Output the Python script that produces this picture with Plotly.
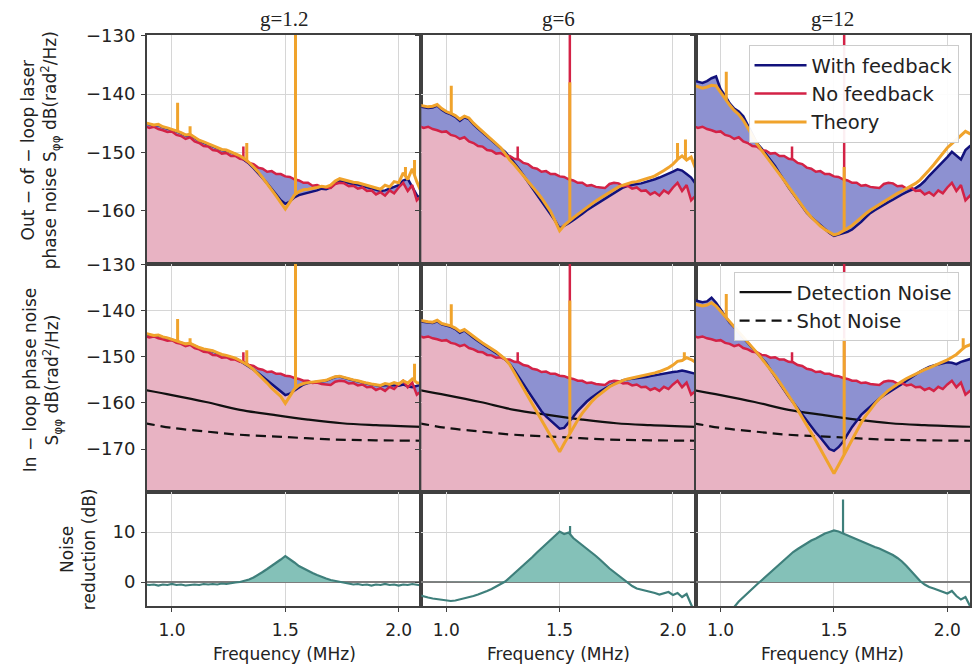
import numpy as np
import plotly.graph_objects as go
from plotly.subplots import make_subplots

# ---------------- data ----------------
freq = [0.88, 0.90, 0.92, 0.94, 0.96, 0.98, 1.00, 1.02, 1.04, 1.06,
        1.08, 1.10, 1.12, 1.14, 1.16, 1.18, 1.20, 1.22, 1.24, 1.26,
        1.28, 1.30, 1.32, 1.34, 1.36, 1.38, 1.40, 1.42, 1.44, 1.46,
        1.48, 1.50, 1.52, 1.54, 1.56, 1.58, 1.60, 1.62, 1.64, 1.66,
        1.68, 1.70, 1.72, 1.74, 1.76, 1.78, 1.80, 1.82, 1.84, 1.86,
        1.88, 1.90, 1.92, 1.94, 1.96, 1.98, 2.00, 2.02, 2.04, 2.06,
        2.08, 2.10, 2.12]

no_feedback = [-145.5, -145.8, -145.6, -146.0, -146.2, -146.5, -146.4, -147.0, -147.2, -147.7,
               -147.4, -148.1, -148.4, -148.9, -149.0, -149.6, -149.7, -150.2, -150.1, -150.6,
               -150.6, -151.1, -151.2, -151.8, -152.0, -152.6, -152.8, -153.3, -153.2, -153.7,
               -153.7, -154.1, -154.2, -154.6, -154.8, -155.2, -155.2, -155.7, -155.6, -155.9,
               -156.0, -156.1, -155.4, -155.2, -155.3, -155.8, -155.7, -156.2, -156.0, -156.6,
               -156.5, -157.2, -156.8, -157.4, -156.5, -157.0, -156.0, -155.2, -156.6, -155.6,
               -158.2, -157.4, -158.6]
no_fb_spike_x = [1.315, 1.545]
no_fb_spike_top = [-149.0, -120.0]

# Out-of-loop (top row)
wfb_out_g1 = [-145.0, -145.2, -145.4, -145.3, -145.7, -145.9, -146.1, -146.4, -146.7, -147.1,
              -147.0, -147.5, -148.0, -148.3, -148.6, -149.0, -149.3, -149.6, -149.7, -150.0,
              -150.3, -150.8, -151.3, -151.9, -152.7, -153.5, -154.4, -155.3, -156.2, -157.2,
              -158.2, -158.8, -158.4, -157.7, -157.3, -157.1, -157.0, -156.8, -156.5, -156.2,
              -156.3, -156.0, -155.3, -154.8, -155.0, -155.3, -155.4, -155.5, -155.7, -155.9,
              -156.1, -156.4, -156.6, -156.5, -156.2, -156.0, -155.6, -154.8, -154.5, -155.9,
              -157.3, -158.1, -157.7]
th_out_g1 = [-144.9, -145.1, -145.3, -145.2, -145.6, -145.8, -146.0, -146.3, -146.6, -147.0,
             -146.9, -147.4, -147.9, -148.2, -148.5, -148.9, -149.2, -149.5, -149.6, -149.9,
             -150.2, -150.6, -151.1, -151.7, -152.5, -153.3, -154.3, -155.3, -156.4, -157.5,
             -158.6, -159.7, -158.5, -157.3, -156.7, -156.4, -156.3, -156.2, -156.0, -155.8,
             -155.9, -155.6, -154.9, -154.5, -154.7, -155.0, -155.1, -155.2, -155.4, -155.6,
             -155.8, -156.1, -156.3, -155.6, -155.9, -155.0, -155.2, -153.5, -154.6, -152.8,
             -155.0, -156.8, -157.0]
th_out_g1_spike_x = [1.025, 1.08, 1.33, 1.545, 2.03, 2.07]
th_out_g1_spike_top = [-141.5, -145.5, -148.4, -120.0, -152.5, -151.3]

wfb_out_g6 = [-142.1, -142.3, -142.4, -142.3, -142.0, -142.7, -143.2, -143.5, -143.9, -144.6,
              -144.0, -144.3, -145.2, -145.9, -146.6, -147.3, -148.0, -148.7, -149.3, -149.9,
              -150.8, -151.8, -152.8, -153.9, -155.0, -156.0, -157.1, -158.2, -159.3, -160.5,
              -161.7, -163.0, -162.6, -162.1, -161.6, -161.1, -160.5, -159.9, -159.4, -158.9,
              -158.4, -157.9, -157.4, -156.9, -156.4, -156.0, -155.7, -155.5, -155.4, -155.3,
              -155.1, -154.9, -154.6, -154.3, -154.0, -153.6, -153.3, -152.9, -153.1, -153.7,
              -154.3, -155.4, -155.0]
th_out_g6 = [-141.9, -142.1, -142.2, -142.1, -141.8, -142.5, -143.0, -143.3, -143.7, -144.3,
             -143.8, -144.1, -145.0, -145.7, -146.4, -147.1, -147.8, -148.5, -149.2, -150.2,
             -151.3, -152.1, -153.0, -153.9, -154.9, -155.8, -156.8, -157.8, -158.9, -160.1,
             -161.7, -163.4, -162.5, -161.8, -161.2, -160.6, -160.0, -159.4, -158.8, -158.3,
             -157.8, -157.3, -156.8, -156.3, -155.9, -155.6, -155.3, -155.1, -155.0, -154.8,
             -154.6, -154.3, -154.0, -153.6, -153.1, -152.6, -152.0, -151.2, -150.6, -151.3,
             -150.8, -152.8, -153.0]
th_out_g6_spike_x = [1.022, 1.545, 2.02, 2.055]
th_out_g6_spike_top = [-138.6, -138.0, -148.4, -147.8]

wfb_out_g12 = [-137.7, -137.9, -138.1, -137.8, -137.3, -137.0, -139.2, -140.3, -141.6, -142.5,
               -143.0, -143.8, -145.4, -146.9, -148.4, -149.3, -150.3, -151.3, -152.3, -153.6,
               -154.9, -156.0, -157.1, -158.2, -159.3, -160.3, -161.1, -161.8, -162.5, -163.2,
               -163.8, -164.3, -164.1, -163.8, -163.6, -163.2, -162.6, -161.9, -161.1, -160.4,
               -159.9, -159.4, -158.9, -158.5, -158.1, -157.6, -157.2, -156.8, -156.5, -156.1,
               -155.6, -154.9, -154.0, -153.2, -152.5, -151.7, -150.8, -149.9, -150.6, -151.2,
               -149.6, -148.9, -149.0]
th_out_g12 = [-138.5, -138.8, -139.0, -138.8, -138.5, -138.6, -139.8, -140.8, -141.9, -142.8,
              -143.5, -144.5, -145.8, -147.2, -148.5, -149.6, -150.6, -151.6, -152.6, -153.7,
              -154.8, -155.9, -157.0, -158.1, -159.2, -160.2, -161.1, -161.9, -162.6, -163.2,
              -163.7, -164.1, -163.9, -163.5, -163.0, -162.5, -161.8, -161.1, -160.5, -159.9,
              -159.4, -158.9, -158.4, -157.9, -157.4, -157.0, -156.6, -156.2, -155.8, -155.3,
              -154.7, -153.9, -153.0, -152.1, -151.1, -150.1, -149.2, -148.5, -147.8, -147.0,
              -146.4, -146.8, -147.0]
th_out_g12_spike_x = [1.025, 1.545]
th_out_g12_spike_top = [-136.2, -152.5]

# In-loop (middle row)
wfb_in_g1 = [-145.0, -145.3, -145.5, -145.4, -145.8, -146.0, -146.3, -146.6, -146.9, -147.3,
             -147.2, -147.7, -148.1, -148.4, -148.6, -148.8, -149.2, -149.6, -149.8, -150.1,
             -150.4, -150.9, -151.5, -152.1, -152.8, -153.5, -154.3, -155.1, -156.0, -156.9,
             -157.7, -158.3, -158.0, -157.3, -156.6, -156.0, -155.7, -155.6, -155.4, -155.3,
             -155.2, -154.8, -154.4, -154.3, -154.6, -154.9, -155.1, -155.3, -155.6, -155.8,
             -156.0, -156.2, -156.3, -156.2, -156.1, -156.2, -156.3, -156.0, -156.4, -156.6,
             -156.3, -156.0, -156.2]
th_in_g1 = [-144.9, -145.2, -145.4, -145.3, -145.7, -145.9, -146.2, -146.5, -146.8, -147.2,
            -147.1, -147.6, -148.0, -148.3, -148.5, -148.7, -149.1, -149.5, -149.7, -150.0,
            -150.3, -150.8, -151.4, -152.0, -152.8, -153.7, -154.7, -155.7, -156.8, -157.7,
            -158.6, -160.1, -158.6, -157.0, -156.2, -155.8, -155.6, -155.5, -155.3, -155.2,
            -155.1, -154.7, -154.3, -154.2, -154.5, -154.8, -155.0, -155.2, -155.5, -155.7,
            -155.9, -156.1, -156.2, -155.8, -156.0, -155.6, -155.9, -155.2, -155.7, -154.8,
            -155.6, -155.8, -156.0]
th_in_g1_spike_x = [1.025, 1.08, 1.33, 1.545, 2.07]
th_in_g1_spike_top = [-141.8, -146.0, -148.6, -120.0, -151.5]

wfb_in_g6 = [-142.3, -142.5, -142.6, -142.7, -142.3, -143.0, -143.2, -143.5, -144.0, -144.8,
             -144.3, -145.2, -145.9, -146.6, -147.3, -147.9, -148.5, -149.1, -149.8, -150.6,
             -151.6, -152.9, -154.3, -155.9, -157.4, -158.9, -160.5, -161.8, -162.9, -163.8,
             -164.9, -165.6, -165.4, -164.3, -163.0, -161.7, -160.6, -159.7, -158.9, -158.1,
             -157.5, -156.9, -156.3, -155.8, -155.5, -155.1, -154.9, -154.8, -154.6, -154.5,
             -154.4, -154.2, -154.0, -153.9, -153.7, -153.5, -153.3, -153.2, -153.0, -153.2,
             -153.5, -153.7, -153.6]
th_in_g6 = [-142.1, -142.3, -142.4, -142.5, -142.1, -142.8, -143.0, -143.3, -143.8, -144.5,
            -144.1, -144.9, -145.6, -146.3, -147.0, -147.6, -148.3, -148.9, -149.7, -150.5,
            -151.7, -153.4, -155.1, -156.8, -158.5, -160.2, -161.9, -163.6, -165.3, -167.0,
            -168.8, -170.6, -168.8, -167.0, -165.3, -163.7, -162.2, -160.9, -159.8, -158.8,
            -158.0, -157.2, -156.5, -156.0, -155.5, -155.1, -154.8, -154.6, -154.4, -154.2,
            -154.0, -153.8, -153.5, -153.2, -152.8, -152.4, -151.8, -151.0, -150.8, -150.2,
            -150.6, -151.2, -151.4]
th_in_g6_spike_x = [1.022, 1.545, 2.05]
th_in_g6_spike_top = [-138.6, -137.8, -149.0]

wfb_in_g12 = [-137.7, -137.9, -138.2, -138.0, -137.2, -138.3, -139.8, -141.2, -142.6, -143.6,
              -144.8, -145.9, -147.0, -148.1, -149.2, -150.2, -151.3, -152.8, -154.3, -155.8,
              -157.3, -158.6, -159.9, -161.2, -162.6, -163.9, -165.2, -166.4, -167.5, -168.7,
              -170.0, -170.4, -169.6, -168.4, -166.7, -165.2, -163.9, -162.6, -161.7, -160.8,
              -159.9, -159.1, -158.4, -157.8, -157.1, -156.5, -155.9, -155.2, -154.5, -153.8,
              -153.2, -152.7, -152.2, -151.9, -151.6, -151.4, -151.2, -151.3, -151.6, -151.1,
              -150.8, -150.5, -150.5]
th_in_g12 = [-138.5, -138.7, -139.0, -138.8, -138.3, -139.0, -140.1, -141.2, -142.4, -143.5,
             -144.6, -145.7, -146.8, -148.0, -149.1, -150.3, -151.5, -152.8, -154.1, -155.5,
             -156.9, -158.4, -159.9, -161.5, -163.1, -164.8, -166.5, -168.2, -170.0, -171.8,
             -173.6, -175.3, -173.5, -171.6, -169.7, -167.8, -166.0, -164.3, -162.8, -161.4,
             -160.2, -159.1, -158.1, -157.3, -156.6, -155.9, -155.3, -154.7, -154.2, -153.7,
             -153.2, -152.8, -152.4, -152.0, -151.6, -151.2, -150.7, -150.1, -149.5, -148.6,
             -147.8, -147.4, -147.4]
th_in_g12_spike_x = [1.025, 1.545, 2.07]
th_in_g12_spike_top = [-136.4, -146.0, -146.0]

det_freq = [0.88, 1.00, 1.15, 1.30, 1.45, 1.60, 1.75, 1.90, 2.12]
detection_noise = [-157.2, -158.3, -159.8, -161.5, -162.6, -163.6, -164.4, -164.8, -165.2]
shot_freq = [0.88, 1.00, 1.15, 1.30, 1.50, 1.70, 1.90, 2.12]
shot_noise = [-164.4, -165.4, -166.2, -166.9, -167.4, -167.9, -168.1, -168.2]

# Noise reduction (bottom row)
red_g1 = [-0.5, -0.6, -0.5, -0.7, -0.5, -0.6, -0.4, -0.6, -0.5, -0.7,
          -0.6, -0.5, -0.6, -0.4, -0.5, -0.4, -0.5, -0.3, -0.4, -0.2,
          -0.1, 0.0, 0.2, 0.5, 0.9, 1.4, 2.0, 2.6, 3.2, 3.8,
          4.5, 5.2, 4.6, 3.9, 3.2, 2.7, 2.2, 1.8, 1.4, 1.0,
          0.7, 0.4, 0.2, 0.0, -0.2, -0.3, -0.5, -0.4, -0.6, -0.5,
          -0.7, -0.5, -0.6, -0.4, -0.6, -0.5, -0.7, -0.5, -0.6, -0.4,
          -0.6, -0.7, -0.5]
red_g6 = [-2.6, -2.9, -3.1, -3.3, -3.4, -3.5, -3.6, -3.8, -3.7, -3.5,
          -3.3, -3.1, -2.8, -2.5, -2.2, -1.8, -1.4, -0.9, -0.4, 0.1,
          0.9, 1.7, 2.5, 3.3, 4.1, 5.0, 5.9, 6.7, 7.6, 8.5,
          9.3, 10.1, 9.6, 9.9, 8.8, 8.1, 7.3, 6.6, 5.9, 5.2,
          4.4, 3.5, 2.7, 2.0, 1.3, 0.6, -0.1, -0.8, -1.3, -1.5,
          -1.7, -1.9, -2.2, -2.5, -2.2, -2.0, -2.6, -2.2, -3.0, -2.4,
          -4.5, -6.5, -7.0]
red_g12 = [-10.5, -10.2, -9.6, -9.0, -8.4, -7.9, -7.2, -6.5, -5.8, -5.0,
           -3.9, -3.0, -2.2, -1.3, -0.5, 0.3, 1.1, 1.9, 2.8, 3.6,
           4.5, 5.3, 6.0, 6.6, 7.2, 7.8, 8.3, 8.7, 9.2, 9.7,
           10.0, 10.3, 10.1, 9.7, 9.3, 9.0, 8.6, 8.2, 7.8, 7.4,
           7.0, 6.7, 6.3, 5.9, 5.4, 4.8, 4.1, 3.2, 2.2, 1.2,
           0.2, -0.5, -1.0, -1.3, -1.6, -1.9, -2.3, -1.8, -2.8, -3.5,
           -3.0, -4.8, -5.5]
red_spike_x = [[], [1.546], [1.54]]
red_spike_top = [[], [11.2], [16.5]]

gain_titles = ["g=1.2", "g=6", "g=12"]

# ---------------- style ----------------
PINK = "#e8b3c3"
LAV = "#8d91d1"
NAVY = "#12127c"
CRIMSON = "#d32246"
ORANGE = "#f0a32c"
TEAL_LINE = "#3e7f7b"
TEAL_FILL = "#84c1b8"
FRAME = "#404040"
GRID = "#d6d6d6"
FONT = "DejaVu Sans"

XR = [0.89, 2.10]
YR_TOP = [-169.1, -129.9]
YR_MID = [-179.3, -129.9]
YR_BOT = [-4.8, 18.0]

fig = make_subplots(rows=3, cols=3, horizontal_spacing=0, vertical_spacing=0,
                    row_heights=[229, 228, 114])


def spike_xy(xs, tops, base_x, base_y):
    X, Y = [], []
    for sx, st in zip(xs, tops):
        b = float(np.interp(sx, base_x, base_y))
        X += [sx, sx, None]
        Y += [b, st, None]
    return X, Y


def psd_panel(row, col, wfb, th, sx, st, yrange, show_legend, middle):
    n = len(freq)
    floor = yrange[0] - 5
    fig.add_trace(go.Scatter(x=freq + freq[::-1], y=no_feedback + [floor] * n,
                             fill="toself", fillcolor=PINK, mode="lines",
                             line=dict(width=0), hoverinfo="skip", showlegend=False),
                  row=row, col=col)
    fig.add_trace(go.Scatter(x=freq + freq[::-1], y=wfb + no_feedback[::-1],
                             fill="toself", fillcolor=LAV, mode="lines",
                             line=dict(width=0), hoverinfo="skip", showlegend=False),
                  row=row, col=col)
    if middle:
        fig.add_trace(go.Scatter(x=det_freq, y=detection_noise, mode="lines",
                                 line=dict(color="#111111", width=2.2, shape="spline"),
                                 name="Detection Noise", legend="legend2",
                                 showlegend=show_legend), row=row, col=col)
        fig.add_trace(go.Scatter(x=shot_freq, y=shot_noise, mode="lines",
                                 line=dict(color="#111111", width=2.2, dash="10px,6px",
                                           shape="spline"),
                                 name="Shot Noise", legend="legend2",
                                 showlegend=show_legend), row=row, col=col)
    fig.add_trace(go.Scatter(x=freq, y=wfb, mode="lines",
                             line=dict(color=NAVY, width=2.5),
                             name="With feedback", showlegend=show_legend and not middle),
                  row=row, col=col)
    fig.add_trace(go.Scatter(x=freq, y=no_feedback, mode="lines",
                             line=dict(color=CRIMSON, width=2.5),
                             name="No feedback", showlegend=show_legend and not middle),
                  row=row, col=col)
    X, Y = spike_xy(no_fb_spike_x, no_fb_spike_top, freq, no_feedback)
    fig.add_trace(go.Scatter(x=X, y=Y, mode="lines", line=dict(color=CRIMSON, width=2.5),
                             showlegend=False, hoverinfo="skip"), row=row, col=col)
    fig.add_trace(go.Scatter(x=freq, y=th, mode="lines",
                             line=dict(color=ORANGE, width=3),
                             name="Theory", showlegend=show_legend and not middle),
                  row=row, col=col)
    X, Y = spike_xy(sx, st, freq, th)
    fig.add_trace(go.Scatter(x=X, y=Y, mode="lines", line=dict(color=ORANGE, width=3),
                             showlegend=False, hoverinfo="skip"), row=row, col=col)


top_sets = [(wfb_out_g1, th_out_g1, th_out_g1_spike_x, th_out_g1_spike_top),
            (wfb_out_g6, th_out_g6, th_out_g6_spike_x, th_out_g6_spike_top),
            (wfb_out_g12, th_out_g12, th_out_g12_spike_x, th_out_g12_spike_top)]
mid_sets = [(wfb_in_g1, th_in_g1, th_in_g1_spike_x, th_in_g1_spike_top),
            (wfb_in_g6, th_in_g6, th_in_g6_spike_x, th_in_g6_spike_top),
            (wfb_in_g12, th_in_g12, th_in_g12_spike_x, th_in_g12_spike_top)]
red_sets = [red_g1, red_g6, red_g12]

for c in range(3):
    w, t, sx, st = top_sets[c]
    psd_panel(1, c + 1, w, t, sx, st, YR_TOP, c == 2, False)
    w, t, sx, st = mid_sets[c]
    psd_panel(2, c + 1, w, t, sx, st, YR_MID, c == 2, True)
    r = red_sets[c]
    pos = np.maximum(np.array(r), 0.0)
    fig.add_trace(go.Scatter(x=freq, y=pos, fill="tozeroy", fillcolor=TEAL_FILL,
                             mode="lines", line=dict(width=0), showlegend=False,
                             hoverinfo="skip"), row=3, col=c + 1)
    fig.add_trace(go.Scatter(x=freq, y=r, mode="lines",
                             line=dict(color=TEAL_LINE, width=2.2), showlegend=False),
                  row=3, col=c + 1)
    if red_spike_x[c]:
        X, Y = spike_xy(red_spike_x[c], red_spike_top[c], freq, r)
        fig.add_trace(go.Scatter(x=X, y=Y, mode="lines",
                                 line=dict(color=TEAL_LINE, width=2.2),
                                 showlegend=False, hoverinfo="skip"), row=3, col=c + 1)

tickfont = dict(family=FONT, size=18, color="#222222")
for r in range(1, 4):
    for c in range(1, 4):
        fig.update_xaxes(range=XR, tickvals=[1.0, 1.5, 2.0], ticktext=["1.0", "1.5", "2.0"],
                         showgrid=True, gridcolor=GRID, gridwidth=1,
                         showline=True, mirror=True, linecolor=FRAME, linewidth=2,
                         ticks="outside", ticklen=4, tickcolor=FRAME,
                         showticklabels=(r == 3), tickfont=dict(family=FONT, size=17, color="#222222"),
                         ticklabelstandoff=4, zeroline=False, row=r, col=c)
        yr = [YR_TOP, YR_MID, YR_BOT][r - 1]
        yopts = dict(range=yr, showgrid=True, gridcolor=GRID, gridwidth=1,
                     showline=True, mirror=True, linecolor=FRAME, linewidth=2,
                     ticks="outside", ticklen=4, tickcolor=FRAME,
                     showticklabels=(c == 1), tickfont=tickfont, ticklabelstandoff=2)
        if r == 3:
            yopts.update(tickvals=[0, 10], zeroline=True, zerolinecolor="#7d7d7d",
                         zerolinewidth=1.6)
        else:
            yopts.update(dtick=10, tick0=-130, zeroline=False)
        fig.update_yaxes(row=r, col=c, **yopts)

L, R, T, B, W, H = 147, 2, 35, 62, 974, 668
PW, PH = W - L - R, H - T - B


def px(xp):
    return (xp - L) / PW


def py(yp):
    return (H - B - yp) / PH


annotations = []
for i, g in enumerate(gain_titles):
    annotations.append(dict(text=g, x=(i + 0.5) / 3, y=py(19), xref="paper", yref="paper",
                            xanchor="center", yanchor="middle", showarrow=False,
                            font=dict(family="Liberation Serif", size=21, color="#222222")))
    annotations.append(dict(text="Frequency (MHz)", x=(i + 0.5) / 3, y=py(654),
                            xref="paper", yref="paper", xanchor="center", yanchor="middle",
                            showarrow=False, font=dict(family=FONT, size=17, color="#222222")))

ylab_font = dict(family=FONT, size=17, color="#222222")
annotations.append(dict(text="Out \u2212 of \u2212 loop laser<br>phase noise S<sub>\u03c6\u03c6</sub> dB(rad<sup>2</sup>/Hz)",
                        x=px(40), y=py(150), xref="paper", yref="paper", textangle=-90,
                        xanchor="center", yanchor="middle", showarrow=False, font=ylab_font))
annotations.append(dict(text="In \u2212 loop phase noise<br>S<sub>\u03c6\u03c6</sub> dB(rad<sup>2</sup>/Hz)",
                        x=px(42), y=py(380), xref="paper", yref="paper", textangle=-90,
                        xanchor="center", yanchor="middle", showarrow=False, font=ylab_font))
annotations.append(dict(text="Noise<br>reduction (dB)",
                        x=px(78), y=py(549), xref="paper", yref="paper", textangle=-90,
                        xanchor="center", yanchor="middle", showarrow=False, font=ylab_font))

legend_font = dict(family=FONT, size=19.5, color="#222222")
fig.update_layout(
    width=W, height=H,
    margin=dict(l=L, r=R, t=T, b=B),
    paper_bgcolor="white", plot_bgcolor="white",
    font=dict(family=FONT, size=17, color="#222222"),
    annotations=annotations,
    legend=dict(x=px(750), y=py(45), xanchor="left", yanchor="top",
                bgcolor="rgba(255,255,255,0.93)", bordercolor="#cccccc", borderwidth=1,
                font=legend_font, tracegroupgap=0, itemwidth=52),
    legend2=dict(x=px(735), y=py(272), xanchor="left", yanchor="top",
                 bgcolor="rgba(255,255,255,0.93)", bordercolor="#cccccc", borderwidth=1,
                 font=legend_font, tracegroupgap=0, itemwidth=52),
    hovermode=False,
)

fig.write_html("out.html")
